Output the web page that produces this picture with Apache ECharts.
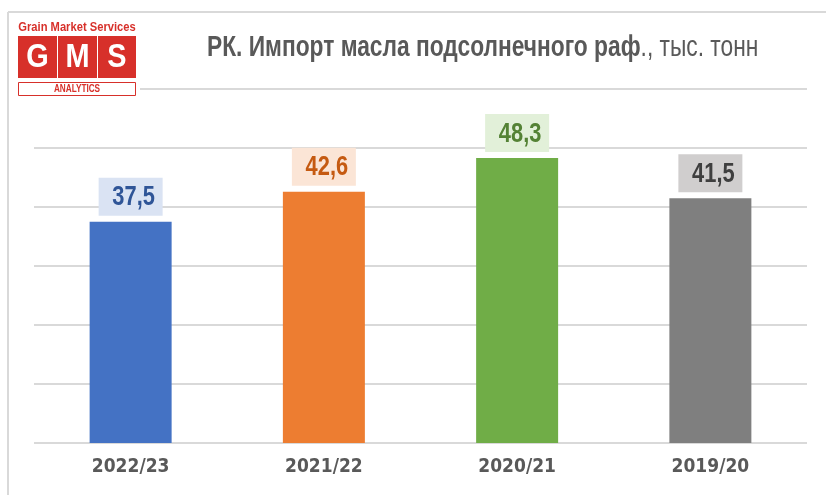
<!DOCTYPE html>
<html>
<head>
<meta charset="utf-8">
<script src="https://cdn.jsdelivr.net/npm/echarts@6/dist/echarts.min.js"></script>
<style>
  html, body { margin: 0; padding: 0; background: #fff; }
  #chart { width: 826px; height: 495px; }
</style>
</head>
<body>
<div id="chart"></div>
<script>
// сезоны и импорт, тыс. тонн
const seasons = ['2022/23', '2021/22', '2020/21', '2019/20'];
const importValues = [37.5, 42.6, 48.3, 41.5];

// цвета столбцов и подписей
const barColors = ['#4472C4', '#ED7D31', '#70AD47', '#7F7F7F'];
const labelBg = ['#DAE3F3', '#FBE5D6', '#E2F0D9', '#D0CECE'];
const labelText = ['#2F5597', '#C55A11', '#548235', '#3F3F3F'];

const NARROW = "'DejaVu Sans Condensed', 'Liberation Sans', sans-serif";
const ARIAL = "'Liberation Sans', Arial, sans-serif";
const RED = '#D7302A';

var myChart = echarts.init(document.getElementById('chart'));

// подпись над столбцом: плашка + сжатый по ширине текст
function renderValueLabel(params, api) {
  const i = params.dataIndex;
  const pt = api.coord([api.value(0), api.value(1)]);
  const txt = String(importValues[i]).replace('.', ',');
  return {
    type: 'group',
    x: pt[0],
    y: pt[1],
    children: [
      {
        type: 'rect',
        shape: { x: -32, y: -44, width: 64, height: 38 },
        style: { fill: labelBg[i] },
      },
      {
        type: 'text',
        x: 3,
        y: -24,
        scaleX: 0.78,
        style: {
          text: txt,
          fill: labelText[i],
          font: 'bold 28px ' + ARIAL,
          align: 'center',
          verticalAlign: 'middle',
        },
      },
    ],
  };
}

const option = {
  backgroundColor: '#fff',
  animation: false,
  grid: { left: 34, right: 19, top: 89, bottom: 52 },
  xAxis: {
    type: 'category',
    data: seasons,
    axisLine: { show: false },
    axisTick: { show: false },
    axisLabel: {
      margin: 15,
      fontFamily: NARROW,
      fontSize: 19,
      fontWeight: 'bold',
      color: '#595959',
    },
  },
  yAxis: {
    type: 'value',
    min: 0,
    max: 60,
    interval: 10,
    axisLabel: { show: false },
    axisLine: { show: false },
    axisTick: { show: false },
    splitLine: { lineStyle: { color: '#D9D9D9', width: 2 } },
  },
  series: [
    {
      type: 'bar',
      barWidth: 82,
      data: importValues.map((v, i) => ({
        value: v,
        itemStyle: { color: barColors[i] },
      })),
    },
    {
      type: 'custom',
      z: 5,
      silent: true,
      renderItem: renderValueLabel,
      data: importValues.map((v, i) => [i, v]),
    },
  ],
  graphic: [
    // рамка
    { type: 'line', shape: { x1: 8, y1: 12, x2: 826, y2: 12 }, style: { stroke: '#D9D9D9', lineWidth: 2 }, z: 1 },
    { type: 'line', shape: { x1: 8, y1: 12, x2: 8, y2: 495 }, style: { stroke: '#D9D9D9', lineWidth: 2 }, z: 1 },
    // заголовок (узкий шрифт через scaleX)
    {
      type: 'text', x: 207, y: 47.5, scaleX: 0.785, z: 5,
      style: {
        text: '{b|РК. Импорт масла подсолнечного раф}{r|., тыс. тонн}',
        verticalAlign: 'middle',
        rich: {
          b: { fontFamily: ARIAL, fontSize: 29, fontWeight: 'bold', fill: '#595959' },
          r: { fontFamily: ARIAL, fontSize: 29, fill: '#595959' },
        },
      },
    },
    // логотип
    { type: 'rect', shape: { x: 14, y: 16, width: 126, height: 84 }, style: { fill: '#fff' }, z: 10 },
    {
      type: 'text', x: 77, y: 27, scaleX: 0.86, z: 11,
      style: { text: 'Grain Market Services', fill: RED, font: 'bold 13px ' + ARIAL, align: 'center', verticalAlign: 'middle' },
    },
    { type: 'rect', shape: { x: 18, y: 36, width: 39, height: 42 }, style: { fill: RED }, z: 11 },
    { type: 'rect', shape: { x: 58, y: 36, width: 39, height: 42 }, style: { fill: RED }, z: 11 },
    { type: 'rect', shape: { x: 98, y: 36, width: 38, height: 42 }, style: { fill: RED }, z: 11 },
    { type: 'text', x: 37.5, y: 58, scaleX: 0.85, z: 12, style: { text: 'G', fill: '#fff', font: 'bold 34px ' + ARIAL, align: 'center', verticalAlign: 'middle' } },
    { type: 'text', x: 77.5, y: 58, scaleX: 0.85, z: 12, style: { text: 'M', fill: '#fff', font: 'bold 34px ' + ARIAL, align: 'center', verticalAlign: 'middle' } },
    { type: 'text', x: 117, y: 58, scaleX: 0.85, z: 12, style: { text: 'S', fill: '#fff', font: 'bold 34px ' + ARIAL, align: 'center', verticalAlign: 'middle' } },
    { type: 'rect', shape: { x: 18.5, y: 82.5, width: 117, height: 13 }, style: { fill: '#fff', stroke: RED, lineWidth: 1 }, z: 11 },
    {
      type: 'text', x: 77, y: 89.5, scaleX: 0.82, z: 12,
      style: { text: 'ANALYTICS', fill: RED, font: 'bold 10px ' + ARIAL, align: 'center', verticalAlign: 'middle' },
    },
  ],
};
myChart.setOption(option);
</script>
</body>
</html>
